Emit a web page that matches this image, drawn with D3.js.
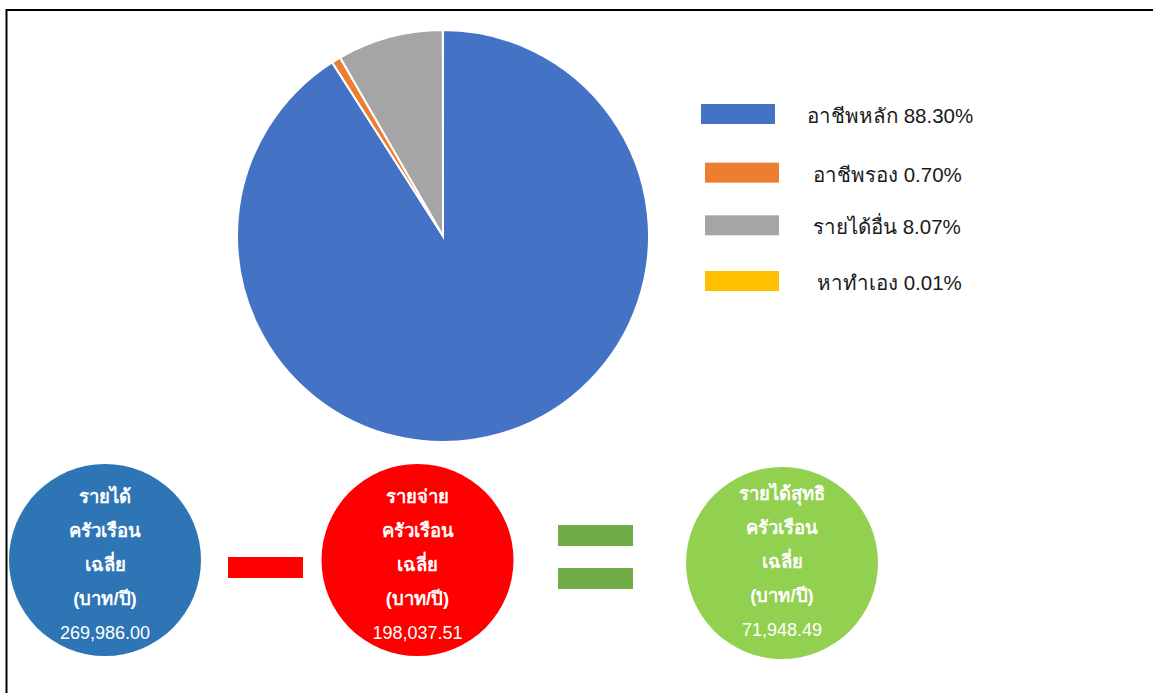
<!DOCTYPE html>
<html>
<head>
<meta charset="utf-8">
<script src="https://cdn.jsdelivr.net/npm/d3@7"></script>
<style>
  body { margin: 0; background: #fff; }
  svg { display: block; font-family: "Liberation Sans", Arial, "Noto Sans", sans-serif; }
</style>
</head>
<body>
<div id="chart"></div>
<script>
'use strict';

// pie data
const sliceLabels = ["อาชีพหลัก", "อาชีพรอง", "รายได้อื่น", "หาทำเอง"];
const sliceValues = [88.30, 0.70, 8.07, 0.01];
const sliceColors = ["#4472C4", "#ED7D31", "#A5A5A5", "#FFC000"];

// summary circles
const circleTitles = ["รายได้", "รายจ่าย", "รายได้สุทธิ"];
const circleLines = ["ครัวเรือน", "เฉลี่ย", "(บาท/ปี)"];
const circleValues = [269986.00, 198037.51, 71948.49];
const circleColors = ["#2E75B6", "#FF0000", "#92D050"];
const operators = ["minus", "equals"];

const W = 1153, H = 693;

let svg = d3.select("#chart")
  .append("svg")
    .attr("width", W)
    .attr("height", H);

svg.append("rect")
  .attr("width", W).attr("height", H)
  .attr("fill", "#fff");

// outer frame (right/bottom run off the picture)
svg.append("rect")
  .attr("x", 6.5).attr("y", 10)
  .attr("width", 1300).attr("height", 900)
  .attr("fill", "none")
  .attr("stroke", "#000")
  .attr("stroke-width", 2);

// pie
const pie = d3.pie().sort(null).value(d => d);
const arc = d3.arc().innerRadius(0).outerRadius(206);

let pieG = svg.append("g")
  .attr("transform", "translate(443,236)");

pieG.selectAll("path")
  .data(pie(sliceValues))
  .enter()
  .append("path")
    .attr("d", arc)
    .attr("fill", (d, i) => sliceColors[i])
    .attr("stroke", "#fff")
    .attr("stroke-width", 2);

// legend
const legendY = d3.scalePoint()
  .domain(d3.range(sliceLabels.length))
  .range([114, 281]);
const legendSwatchX = [701, 705, 705, 705];
const legendTextX = [807, 813, 813, 817];
const yOffset = [0, 3, 0, 0];

let legend = svg.append("g");
sliceLabels.forEach(function(lab, i) {
  let y = legendY(i) + yOffset[i];
  legend.append("rect")
    .attr("x", legendSwatchX[i])
    .attr("y", y - 10)
    .attr("width", 74)
    .attr("height", 20)
    .attr("fill", sliceColors[i]);
  legend.append("text")
    .attr("x", legendTextX[i])
    .attr("y", y + 9)
    .style("font-size", "20.5px")
    .style("fill", "#1a1a1a")
    .text(lab + " " + d3.format(".2f")(sliceValues[i]) + "%");
});

// bottom row: circles and operators
const rowX = d3.scaleOrdinal()
  .domain(["c0", "minus", "c1", "equals", "c2"])
  .range([105, 265.5, 417.5, 595.5, 782]);
const circleY = [560, 560, 563];
const fmt = d3.format(",.2f");

circleValues.forEach(function(v, i) {
  let cx = rowX("c" + i), cy = circleY[i];
  let g = svg.append("g");
  g.append("circle")
    .attr("cx", cx).attr("cy", cy)
    .attr("r", 96)
    .attr("fill", circleColors[i]);

  let lines = [circleTitles[i]].concat(circleLines);
  let top = cy - 57 + (i == 2 ? -6 : 0);
  lines.forEach(function(t, k) {
    g.append("text")
      .attr("x", cx)
      .attr("y", top + k * 34)
      .attr("text-anchor", "middle")
      .style("font-size", "18.5px")
      .style("font-weight", "bold")
      .style("fill", "#fff")
      .text(t);
  });
  g.append("text")
    .attr("x", cx)
    .attr("y", top + 4 * 34)
    .attr("text-anchor", "middle")
    .style("font-size", "18px")
    .style("fill", "#fff")
    .text(fmt(v));
});

// minus sign
svg.append("rect")
  .attr("x", rowX("minus") - 37.5).attr("y", 557)
  .attr("width", 75).attr("height", 21)
  .attr("fill", "#FF0000");

// equals sign
[525, 568].forEach(function(y) {
  svg.append("rect")
    .attr("x", rowX("equals") - 37.5).attr("y", y)
    .attr("width", 75).attr("height", 21)
    .attr("fill", "#70AD47");
});
</script>
</body>
</html>
